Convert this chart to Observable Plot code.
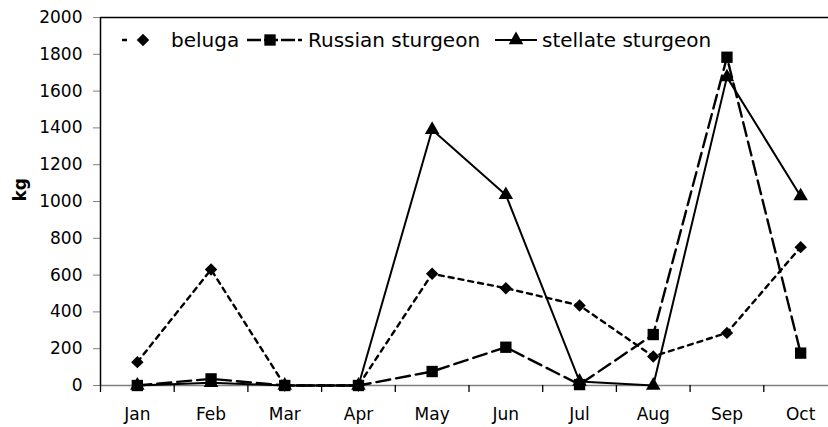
<!DOCTYPE html>
<html>
<head>
<meta charset="utf-8">
<script src="https://cdn.jsdelivr.net/npm/d3@7"></script>
<script src="https://cdn.jsdelivr.net/npm/@observablehq/plot@0.6"></script>
<style>
  html, body { margin: 0; padding: 0; background: #fff; }
  #wrap { position: relative; width: 828px; height: 427px; overflow: hidden; }
  #legend { position: absolute; left: 0; top: 0; pointer-events: none; }
</style>
</head>
<body>
<div id="wrap"></div>
<script>
const months = ["Jan", "Feb", "Mar", "Apr", "May", "Jun", "Jul", "Aug", "Sep", "Oct"];
const beluga = [127, 630, 0, 0, 607, 529, 435, 158, 286, 752];
const russian = [0, 36, 0, 0, 76, 208, 5, 277, 1784, 176];
const stellate = [0, 15, 0, 0, 1390, 1036, 22, 0, 1676, 1029];
const yTicks = [0, 200, 400, 600, 800, 1000, 1200, 1400, 1600, 1800, 2000];
const seriesNames = ["beluga", "Russian sturgeon", "stellate sturgeon"];

const rows = (vals) => vals.map((v, i) => ({i, v}));
const idx = months.map((m, i) => i);
const bounds = d3.range(-0.5, months.length, 1);

const styles = [
  {data: rows(beluga), dash: "5,5", symbol: "diamond2", r: 5.6, sw: 2.4},
  {data: rows(russian), dash: "14,6", symbol: "square", r: 6.4, sw: 2.4},
  {data: rows(stellate), dash: null, symbol: "triangle", r: 5.4, sw: 2}
];

const marks = [
  Plot.ruleY([0], {stroke: "#808080", strokeWidth: 1.3}),
  Plot.ruleY([2000], {stroke: "#000", strokeWidth: 1.3}),
  Plot.axisY({ticks: yTicks, tickSize: 7, tickPadding: 11, stroke: "#808080", fill: "#000", label: null, tickFormat: d => String(d)}),
  Plot.axisX({ticks: idx, tickSize: 0, tickPadding: 22, fill: "#000", label: null, tickFormat: i => months[i]}),
  Plot.axisX({ticks: bounds, tickSize: 7, tickPadding: 0, stroke: "#000", strokeWidth: 1.3, label: null, tickFormat: () => ""}),
  Plot.ruleX([-0.5], {y1: 0, y2: 2000, stroke: "#000", strokeWidth: 1.5}),
  Plot.text(["kg"], {frameAnchor: "left", dx: -80, rotate: -90, fontWeight: "bold", fontSize: 17, fill: "#000"})
];
for (const s of styles) {
  marks.push(Plot.line(s.data, {x: "i", y: "v", stroke: "#000", strokeWidth: s.sw, strokeDasharray: s.dash}));
}
for (const s of styles) {
  marks.push(Plot.dot(s.data, {x: "i", y: "v", symbol: () => s.symbol, r: s.r, fill: "#000", stroke: "none"}));
}

const chart = Plot.plot({
  width: 828,
  height: 427,
  marginLeft: 100,
  marginRight: 0,
  marginTop: 17,
  marginBottom: 42,
  style: {fontFamily: "DejaVu Sans", fontSize: "17px", color: "#000", background: "#fff"},
  x: {type: "linear", domain: [-0.5, 9.5], range: [100, 837], axis: null},
  y: {domain: [0, 2000], axis: null},
  marks
});
document.getElementById("wrap").appendChild(chart);

// Legend overlay
const legendLayout = [
  {x0: 122, x1: 158, cx: 143, tx: 171},
  {x0: 247, x1: 302, cx: 270, tx: 308},
  {x0: 495, x1: 537, cx: 516, tx: 542}
];
const lg = d3.select("#wrap").append("svg").attr("id", "legend").attr("width", 828).attr("height", 427);
const ly = 40;
const symMap = {diamond2: d3.symbolDiamond2, square: d3.symbolSquare, triangle: d3.symbolTriangle};
seriesNames.forEach((name, k) => {
  const L = legendLayout[k], s = styles[k];
  lg.append("line").attr("x1", L.x0).attr("x2", L.x1).attr("y1", ly).attr("y2", ly)
    .attr("stroke", "#000").attr("stroke-width", s.sw)
    .attr("stroke-dasharray", s.dash ? (k === 0 ? "5,15" : "14,3") : null);
  lg.append("path").attr("d", d3.symbol(symMap[s.symbol], Math.PI * s.r * s.r)())
    .attr("transform", `translate(${L.cx},${ly})`).attr("fill", "#000");
  lg.append("text").attr("x", L.tx).attr("y", ly).attr("dy", "0.35em")
    .attr("font-family", "DejaVu Sans").attr("font-size", "20px").attr("fill", "#000").text(name);
});
</script>
</body>
</html>
